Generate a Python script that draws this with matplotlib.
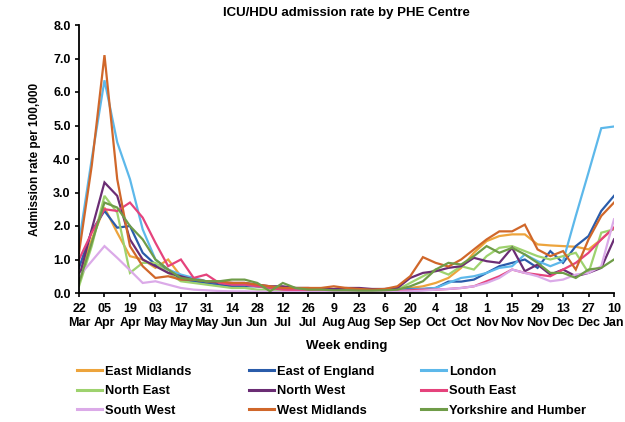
import matplotlib
matplotlib.use("Agg")
import matplotlib.pyplot as plt
from matplotlib.lines import Line2D

plt.rcParams['font.family'] = ['Liberation Sans', 'DejaVu Sans']
plt.rcParams['font.weight'] = 'bold'

# Week-ending tick labels (every second week)
tick_days = ["22", "05", "19", "03", "17", "31", "14", "28", "12", "26", "9",
             "23", "6", "20", "4", "18", "1", "15", "29", "13", "27", "10"]
tick_months = ["Mar", "Apr", "Apr", "May", "May", "May", "Jun", "Jun", "Jul", "Jul", "Aug",
               "Aug", "Sep", "Sep", "Oct", "Oct", "Nov", "Nov", "Nov", "Dec", "Dec", "Jan"]

regions = ["East Midlands", "East of England", "London",
           "North East", "North West", "South East",
           "South West", "West Midlands", "Yorkshire and Humber"]

# Weekly ICU/HDU admission rate per 100,000, 22 Mar to 10 Jan
east_midlands = [0.5, 1.6, 2.55, 1.8, 1.1, 1.0, 0.75, 1.0, 0.5, 0.4, 0.35,
                 0.3, 0.3, 0.25, 0.2, 0.15, 0.15, 0.12, 0.1, 0.1, 0.1,
                 0.08, 0.08, 0.08, 0.1, 0.12, 0.15, 0.2, 0.3, 0.45, 0.75,
                 1.2, 1.55, 1.7, 1.75, 1.75, 1.45, 1.42, 1.4, 1.38, 1.3, 1.6, 1.95]
east_of_england = [0.75, 1.85, 2.45, 1.95, 2.0, 1.2, 0.85, 0.7, 0.4, 0.35, 0.3,
                   0.25, 0.2, 0.2, 0.2, 0.15, 0.12, 0.1, 0.1, 0.08, 0.08,
                   0.07, 0.07, 0.07, 0.08, 0.1, 0.12, 0.12, 0.15, 0.34, 0.34,
                   0.4, 0.6, 0.8, 0.9, 1.0, 0.75, 1.25, 0.9, 1.4, 1.7, 2.45, 2.9]
london = [1.5, 4.0, 6.35, 4.5, 3.4, 1.9, 1.0, 0.7, 0.55, 0.45, 0.35,
          0.3, 0.3, 0.25, 0.2, 0.15, 0.12, 0.1, 0.08, 0.07, 0.06,
          0.06, 0.05, 0.05, 0.06, 0.08, 0.1, 0.12, 0.15, 0.3, 0.45,
          0.5, 0.6, 0.75, 0.8, 1.15, 0.95, 0.8, 0.95, 2.3, 3.6, 4.92, 4.97]
north_east = [0.2, 1.4, 2.9, 2.4, 0.6, 0.9, 0.9, 0.6, 0.35, 0.3, 0.25,
              0.2, 0.15, 0.15, 0.1, 0.1, 0.08, 0.06, 0.05, 0.05, 0.05,
              0.05, 0.05, 0.05, 0.07, 0.1, 0.3, 0.5, 0.7, 0.55, 0.8,
              0.7, 1.1, 1.35, 1.4, 1.25, 1.1, 1.0, 1.1, 1.2, 0.6, 1.8, 1.9]
north_west = [0.45, 1.9, 3.3, 2.9, 1.6, 1.0, 0.8, 0.6, 0.5, 0.4, 0.35,
              0.3, 0.3, 0.3, 0.25, 0.2, 0.2, 0.15, 0.15, 0.12, 0.12,
              0.15, 0.15, 0.12, 0.12, 0.15, 0.45, 0.6, 0.65, 0.75, 0.8,
              1.05, 0.95, 0.9, 1.35, 0.65, 0.85, 0.55, 0.7, 0.5, 0.6, 0.75, 1.6]
south_east = [1.0, 1.8, 2.5, 2.45, 2.7, 2.25, 1.5, 0.8, 1.0, 0.45, 0.55,
              0.3, 0.25, 0.25, 0.2, 0.15, 0.1, 0.08, 0.06, 0.05, 0.05,
              0.05, 0.05, 0.05, 0.05, 0.06, 0.08, 0.1, 0.1, 0.12, 0.15,
              0.2, 0.35, 0.5, 0.7, 0.6, 0.55, 0.5, 0.7, 0.9, 1.2, 1.6, 1.95]
south_west = [0.5, 0.95, 1.4, 1.05, 0.68, 0.3, 0.35, 0.25, 0.15, 0.1, 0.08,
              0.06, 0.05, 0.05, 0.04, 0.04, 0.03, 0.03, 0.03, 0.03, 0.03,
              0.03, 0.03, 0.03, 0.03, 0.04, 0.05, 0.07, 0.1, 0.12, 0.15,
              0.2, 0.3, 0.45, 0.7, 0.6, 0.5, 0.35, 0.4, 0.55, 0.6, 0.8, 2.2]
west_midlands = [1.2, 3.8, 7.1, 3.4, 1.4, 0.8, 0.45, 0.5, 0.4, 0.4, 0.35,
                 0.35, 0.3, 0.3, 0.25, 0.2, 0.15, 0.15, 0.15, 0.15, 0.2,
                 0.15, 0.12, 0.1, 0.12, 0.2, 0.5, 1.07, 0.9, 0.79, 1.0,
                 1.3, 1.6, 1.84, 1.84, 2.04, 1.3, 1.1, 1.25, 0.7, 1.6, 2.3, 2.7]
yorkshire = [0.3, 1.5, 2.7, 2.55, 2.0, 1.6, 1.0, 0.7, 0.45, 0.4, 0.35,
             0.35, 0.4, 0.4, 0.3, 0.05, 0.3, 0.15, 0.1, 0.1, 0.08,
             0.08, 0.07, 0.07, 0.08, 0.1, 0.2, 0.35, 0.7, 0.9, 0.85,
             1.1, 1.4, 1.2, 1.35, 1.15, 0.9, 0.6, 0.6, 0.45, 0.7, 0.75, 1.0]

series = [east_midlands, east_of_england, london, north_east, north_west,
          south_east, south_west, west_midlands, yorkshire]
colors = ["#EDA43C", "#2A5CAA", "#5DB8EA", "#9ED26E", "#6B2D74",
          "#E5437C", "#DBAAE8", "#D0672A", "#6F9C48"]

fig = plt.figure(figsize=(6.25, 4.22), dpi=100)
ax = fig.add_axes([79 / 625, 1 - 293 / 422, (614 - 79) / 625, (293 - 25) / 422])

weeks = list(range(len(east_midlands)))
for vals, col, name in zip(series, colors, regions):
    ax.plot(weeks, vals, color=col, lw=1.6, label=name, solid_joinstyle='miter')

ax.set_xlim(0, len(weeks) - 1)
ax.set_ylim(0, 8)
ax.set_yticks(range(0, 9))
ax.set_yticklabels([f"{v:.1f}" for v in range(0, 9)], fontsize=9, fontweight='bold')
ax.set_xticks(range(0, len(weeks), 2))
ax.set_xticklabels([f"{d}\n{m}" for d, m in zip(tick_days, tick_months)],
                   fontsize=9, fontweight='bold', linespacing=1.25)
ax.tick_params(axis='both', direction='out', length=3, width=1.2, colors='black', pad=3)
ax.tick_params(axis='x', pad=4)

for side in ('top', 'right'):
    ax.spines[side].set_visible(False)
for side in ('left', 'bottom'):
    ax.spines[side].set_linewidth(1.3)
    ax.spines[side].set_color('black')

ax.set_ylabel("Admission rate per 100,000", fontsize=8.5, fontweight='bold', labelpad=9)
ax.set_xlabel("Week ending", fontsize=9.5, fontweight='bold', labelpad=8)
fig.text(346 / 625, 1 - 13 / 422, "ICU/HDU admission rate by PHE Centre",
         ha='center', va='center', fontsize=9.5, fontweight='bold')

# Three legend columns laid out row by row
handles = [Line2D([0], [0], color=c, lw=2.2) for c in colors]
col_x = [74, 246, 418]
for k in range(3):
    idx = [k, k + 3, k + 6]
    fig.legend([handles[i] for i in idx], [regions[i] for i in idx],
               loc='upper left', bbox_to_anchor=(col_x[k] / 625, 1 - 363 / 422),
               frameon=False, prop={'weight': 'bold', 'size': 9.3},
               handlelength=2.0, handletextpad=0.2, labelspacing=0.58,
               borderaxespad=0, borderpad=0.2)

fig.savefig("out.png", dpi=100)
